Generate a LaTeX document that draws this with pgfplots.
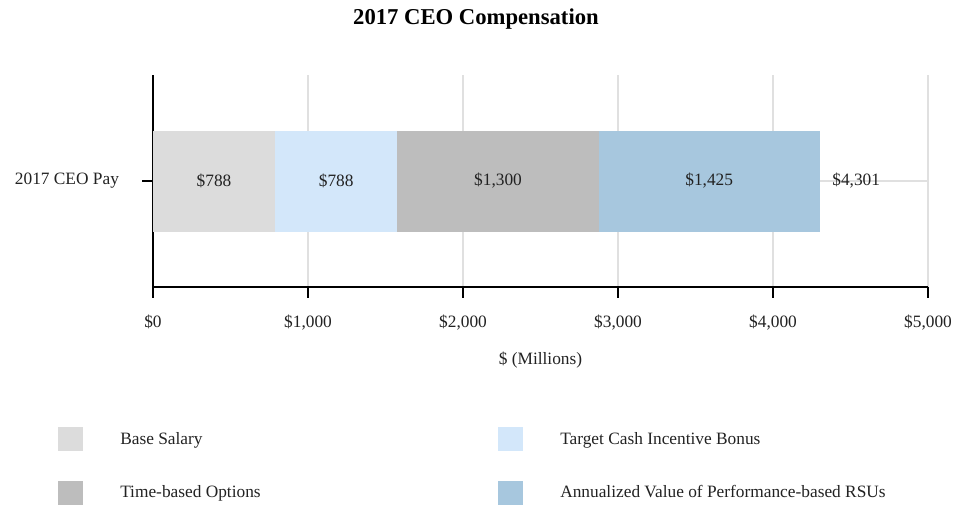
\documentclass[border=0pt]{standalone}
\usepackage{fontspec}
\setmainfont{Liberation Serif}
\usepackage{pgfplots}
\pgfplotsset{compat=1.18}
\definecolor{cBase}{HTML}{DCDCDC}
\definecolor{cTarget}{HTML}{D3E7FA}
\definecolor{cOpt}{HTML}{BDBDBD}
\definecolor{cRSU}{HTML}{A7C7DE}
\definecolor{cGrid}{HTML}{E0E0E0}
\definecolor{cText}{HTML}{222222}
\newcommand{\mf}{\fontsize{13}{15.6}\selectfont}
\begin{document}
\begin{tikzpicture}
\useasboundingbox (-114.75pt,-165.75pt) rectangle (601.5pt,215.25pt);
\begin{axis}[
  scale only axis,
  width=581.25pt, height=159pt,
  xbar stacked,
  bar width=75.75pt,
  xmin=0, xmax=5000,
  ymin=-1, ymax=1,
  axis x line*=bottom, axis y line*=left,
  axis line style={line width=1.7pt, black},
  xtick={0,1000,2000,3000,4000,5000},
  xticklabels={\$0,{\$1,000},{\$2,000},{\$3,000},{\$4,000},{\$5,000}},
  ytick={0}, yticklabels={2017 CEO Pay},
  tick align=outside,
  major tick length=8pt,
  tick style={line width=0.8pt, black},
  xmajorgrids, ymajorgrids,
  grid style={line width=0.8pt, cGrid},
  /pgf/number format/assume math mode=true,
  ticklabel style={font=\mf, text=cText},
  xticklabel style={yshift=-9.75pt},
  yticklabel style={xshift=-14pt},
  title={2017 CEO Compensation},
  title style={at={(axis description cs:0.4168,1)}, anchor=center, yshift=36pt, font=\bfseries\fontsize{17}{20}\selectfont},
  xlabel={\$ (Millions)},
  xlabel style={at={(axis description cs:0.5,0)}, anchor=center, yshift=-54.75pt, font=\mf, text=cText},
  legend columns=2,
  legend image code/.code={\fill[#1] (0pt,-9pt) rectangle (18.75pt,9pt); \path (0pt,0pt) (46.5pt,0pt);},
  legend style={draw=none, fill=none, inner sep=0pt, row sep=22pt,
    at={(axis description cs:0,0)}, anchor=north west, xshift=-71.25pt, yshift=-105pt,
    nodes={inner sep=0pt, anchor=west, font=\mf, text=cText},
    /tikz/every even column/.append style={column sep=0pt}},
  legend cell align=left,
  point meta=explicit symbolic,
  nodes near coords,
  every node near coord/.append style={font=\mf, text=cText, anchor=center},
]
\addplot[draw=none, fill=cBase] coordinates {(788,0) [\$788]};
\addlegendentry{\makebox[283.5pt][l]{Base Salary}}
\addplot[draw=none, fill=cTarget] coordinates {(788,0) [\$788]};
\addlegendentry{Target Cash Incentive Bonus}
\addplot[draw=none, fill=cOpt] coordinates {(1300,0) [\$1,300]};
\addlegendentry{\makebox[283.5pt][l]{Time-based Options}}
\addplot[draw=none, fill=cRSU] coordinates {(1425,0) [\$1,425]};
\addlegendentry{Annualized Value of Performance-based RSUs}
\node[font=\mf, text=cText, anchor=west, xshift=6pt] at (axis cs:4301,0) {\$4,301};
\end{axis}
\end{tikzpicture}
\end{document}
